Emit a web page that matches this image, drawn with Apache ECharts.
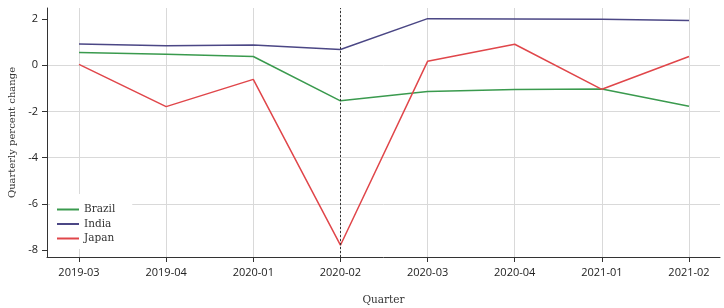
<!DOCTYPE html>
<html>
<head>
<meta charset="utf-8">
<script src="https://cdn.jsdelivr.net/npm/echarts@6/dist/echarts.min.js"></script>
<style>html,body{margin:0;padding:0;background:#fff;}#c{width:724px;height:308px;}</style>
</head>
<body>
<div id="c"></div>
<script>
const quarters = ['2019-03','2019-04','2020-01','2020-02','2020-03','2020-04','2021-01','2021-02'];
const brazil = [0.55, 0.48, 0.38, -1.54, -1.13, -1.05, -1.03, -1.77];
const india  = [0.92, 0.85, 0.88, 0.68, 2.02, 2.00, 1.99, 1.94];
const japan  = [0.04, -1.79, -0.61, -7.79, 0.17, 0.91, -1.04, 0.38];
const yTicks = [-8, -6, -4, -2, 0, 2];
const markerQuarter = '2020-02';

const serif = 'DejaVu Serif';
const sans = 'Open Sans';
const yMin = -8.3, yMax = 2.48;

const chart = echarts.init(document.getElementById('c'), null, {renderer: 'canvas'});
chart.setOption({
  animation: false,
  backgroundColor: '#fff',
  grid: [
    {left: 47, right: 4, top: 8, bottom: 51, containLabel: false, outerBoundsMode: 'none'},
    {left: 79, right: 35, top: 8, bottom: 51, containLabel: false, outerBoundsMode: 'none'}
  ],
  legend: {
    orient: 'vertical',
    left: 50, top: 194,
    icon: 'rect',
    itemWidth: 22, itemHeight: 2, itemGap: 3.5,
    padding: [10, 17, 5, 7],
    backgroundColor: '#fff',
    textStyle: {fontFamily: serif, fontSize: 10.5, color: '#333'},
    data: ['Brazil', 'India', 'Japan']
  },
  xAxis: [
    {
      type: 'value', gridIndex: 0, min: 0, max: 1,
      axisLine: {show: true, onZero: false, lineStyle: {color: '#333', width: 1}},
      axisTick: {show: false}, axisLabel: {show: false}, splitLine: {show: false},
      name: 'Quarter', nameLocation: 'middle', nameGap: 38,
      nameTextStyle: {fontFamily: serif, fontSize: 10.5, color: '#333'}
    },
    {
      type: 'category', gridIndex: 1, data: quarters, boundaryGap: false,
      axisLine: {show: false, onZero: false},
      axisTick: {show: true, length: 5, lineStyle: {color: '#333'}},
      axisLabel: {margin: 10, fontFamily: sans, fontSize: 11, color: '#222'},
      splitLine: {show: true, lineStyle: {color: '#d9d9d9', width: 1}}
    }
  ],
  yAxis: [
    {
      type: 'value', gridIndex: 0, min: yMin, max: yMax,
      axisLine: {show: true, onZero: false, lineStyle: {color: '#333', width: 1}},
      axisTick: {show: true, length: 5, customValues: yTicks, lineStyle: {color: '#333'}},
      axisLabel: {customValues: yTicks, margin: 9, fontFamily: sans, fontSize: 11, color: '#222'},
      splitLine: {show: true, showMinLine: false, showMaxLine: false, lineStyle: {color: '#d9d9d9', width: 1}},
      name: 'Quarterly percent change', nameLocation: 'middle', nameGap: 30, nameRotate: 90,
      nameTextStyle: {fontFamily: serif, fontSize: 10, color: '#333'}
    },
    {
      type: 'value', gridIndex: 1, min: yMin, max: yMax,
      axisLine: {show: false, onZero: false}, axisTick: {show: false},
      axisLabel: {show: false}, splitLine: {show: false}
    }
  ],
  series: [
    {
      name: 'Brazil', type: 'line', xAxisIndex: 1, yAxisIndex: 1, data: brazil,
      symbol: 'none', lineStyle: {color: '#3a9a4e', width: 1.5}, itemStyle: {color: '#3a9a4e'},
      markLine: {
        silent: true, symbol: 'none', label: {show: false},
        lineStyle: {color: '#333', type: [2, 2], width: 1},
        data: [{xAxis: markerQuarter}]
      }
    },
    {
      name: 'India', type: 'line', xAxisIndex: 1, yAxisIndex: 1, data: india,
      symbol: 'none', lineStyle: {color: '#4b4785', width: 1.5}, itemStyle: {color: '#4b4785'}
    },
    {
      name: 'Japan', type: 'line', xAxisIndex: 1, yAxisIndex: 1, data: japan,
      symbol: 'none', lineStyle: {color: '#e0464a', width: 1.5}, itemStyle: {color: '#e0464a'}
    }
  ]
});
</script>
</body>
</html>
